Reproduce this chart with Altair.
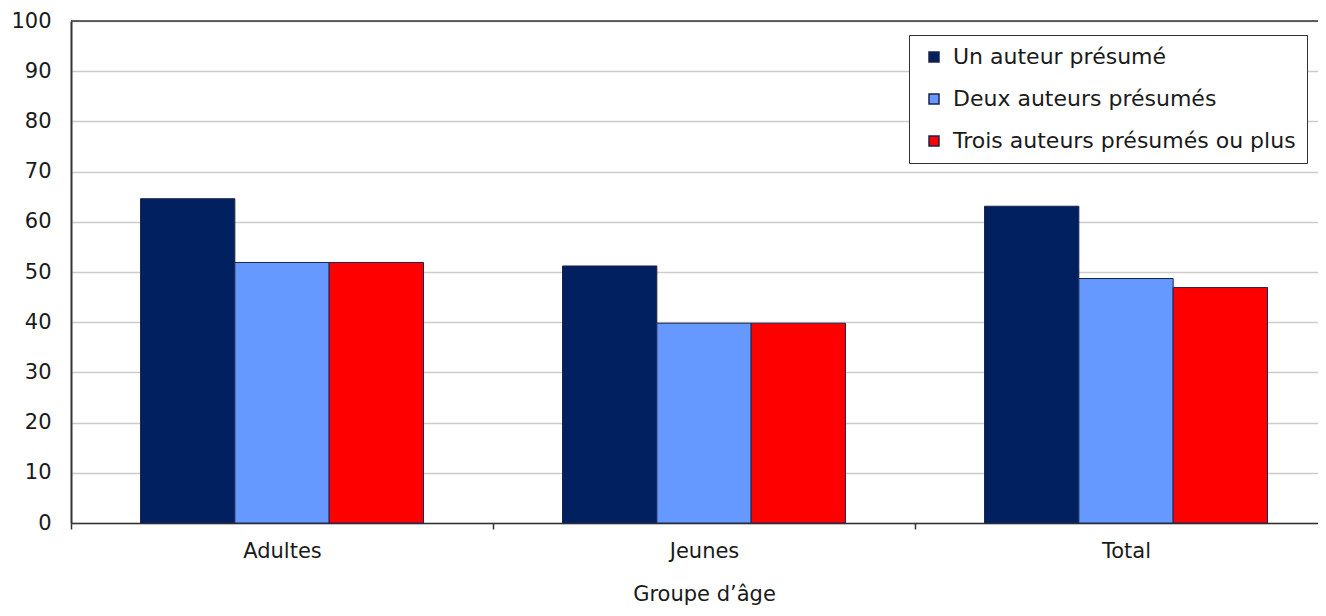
import altair as alt
import pandas as pd

groups = ["Adultes", "Jeunes", "Total"]
series = ["Un auteur présumé", "Deux auteurs présumés", "Trois auteurs présumés ou plus"]
un = [64.6, 51.2, 63.1]
deux = [51.9, 39.8, 48.7]
trois = [51.9, 39.8, 46.9]
colors = ["#002060", "#6699FF", "#FF0000"]
y_ticks = list(range(0, 101, 10))

rows = []
for s, vals in zip(series, [un, deux, trois]):
    for g, v in zip(groups, vals):
        rows.append({"groupe": g, "serie": s, "valeur": v})
df = pd.DataFrame(rows)

FONT = "DejaVu Sans"
W, H = 1247, 502

bars = alt.Chart(df).mark_bar(stroke="#1c2448", strokeWidth=1).encode(
    x=alt.X(
        "groupe:N", sort=groups,
        scale=alt.Scale(range=[0, 1266], paddingInner=0, paddingOuter=0),
        axis=alt.Axis(
            title="Groupe d’âge", labelAngle=0, tickBand="extent",
            domainColor="#333", domainWidth=1.5, tickColor="#333", tickWidth=1.5,
            tickSize=6, labelPadding=11, labelFont=FONT, labelFontSize=21,
            labelColor="#1a1a1a", titleFont=FONT, titleFontSize=21,
            titleFontWeight="normal", titleColor="#1a1a1a", titlePadding=22, grid=False,
        ),
    ),
    xOffset=alt.XOffset("serie:N", sort=series,
                        scale=alt.Scale(paddingInner=0, paddingOuter=0.737)),
    y=alt.Y(
        "valeur:Q",
        scale=alt.Scale(domain=[0, 100], nice=False),
        axis=alt.Axis(
            values=y_ticks, title=None, ticks=False, labelPadding=20,
            domainColor="#333", domainWidth=2, gridColor="#cccccc", gridWidth=1.5,
            labelFont=FONT, labelFontSize=21, labelColor="#1a1a1a",
        ),
    ),
    color=alt.Color(
        "serie:N", sort=series,
        scale=alt.Scale(domain=series, range=colors),
        legend=alt.Legend(
            title=None, orient="none", legendX=838, legendY=14,
            strokeColor="#333", fillColor="white", padding=11, rowPadding=20,
            symbolType="square", symbolSize=100, symbolStrokeColor="#1c2448",
            symbolStrokeWidth=1.5, labelFont=FONT, labelFontSize=22,
            labelColor="#1a1a1a", labelLimit=600, symbolOffset=3, labelOffset=8,
        ),
    ),
)

top = alt.Chart(pd.DataFrame({"v": [100]})).mark_rule(
    color="#333", strokeWidth=1.5
).encode(y="v:Q")

chart = alt.layer(bars, top).properties(
    width=W, height=H,
    padding={"left": 63, "top": 13, "right": 0, "bottom": 85},
    autosize=alt.AutoSizeParams(type="none"),
).configure_view(stroke=None).configure(background="white")

chart.save("out.html", embed_options={"renderer": "svg", "actions": False})
